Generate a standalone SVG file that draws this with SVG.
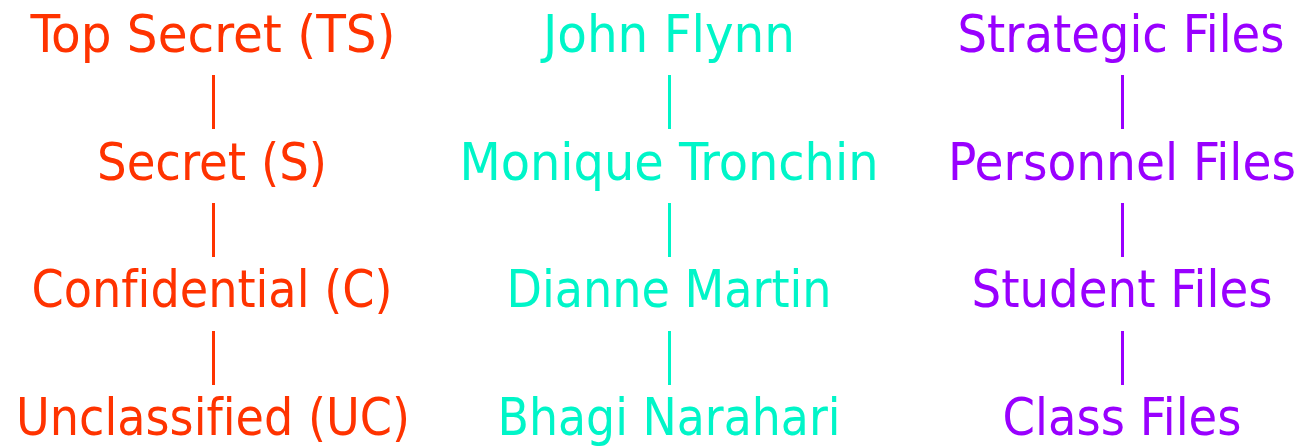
<svg xmlns="http://www.w3.org/2000/svg" width="1300" height="446" viewBox="0 0 1300 446">
  <style>
    .lbl { font-family: "DejaVu Sans Condensed", "DejaVu Sans", sans-serif; font-stretch: condensed; font-size: 52px; text-anchor: middle; font-variant-ligatures: none; font-feature-settings: "liga" 0; }
    .lvl { fill: #FF3300; }
    .who { fill: #00F5C8; }
    .obj { fill: #9900FF; }
    .bar { stroke-width: 3; fill: none; }
    .lvl-bar { stroke: #FF3300; }
    .who-bar { stroke: #00F5C8; }
    .obj-bar { stroke: #9900FF; }
  </style>
  <rect width="1300" height="446" fill="#FFFFFF"/>

  <!-- Classification levels -->
  <g id="level-ts"><text class="lbl lvl" x="213" y="52" textLength="365" lengthAdjust="spacingAndGlyphs">Top Secret (TS)</text></g>
  <g id="level-s"><text class="lbl lvl" x="212" y="180" textLength="230" lengthAdjust="spacingAndGlyphs">Secret (S)</text></g>
  <g id="level-c"><text class="lbl lvl" x="212" y="307" textLength="361" lengthAdjust="spacingAndGlyphs">Confidential (C)</text></g>
  <g id="level-uc"><text class="lbl lvl" x="213" y="435" textLength="394" lengthAdjust="spacingAndGlyphs">Unclassified (UC)</text></g>

  <!-- Subjects -->
  <g id="subject-flynn"><text class="lbl who" x="669" y="52" textLength="252" lengthAdjust="spacingAndGlyphs">John Flynn</text></g>
  <g id="subject-tronchin"><text class="lbl who" x="669" y="180" textLength="419" lengthAdjust="spacingAndGlyphs">Monique Tronchin</text></g>
  <g id="subject-martin"><text class="lbl who" x="669" y="307" textLength="325" lengthAdjust="spacingAndGlyphs">Dianne Martin</text></g>
  <g id="subject-narahari"><text class="lbl who" x="669" y="435" textLength="343" lengthAdjust="spacingAndGlyphs">Bhagi Narahari</text></g>

  <!-- Objects -->
  <g id="object-strategic"><text class="lbl obj" x="1121" y="52" textLength="327" lengthAdjust="spacingAndGlyphs">Strategic Files</text></g>
  <g id="object-personnel"><text class="lbl obj" x="1122" y="180" textLength="348" lengthAdjust="spacingAndGlyphs">Personnel Files</text></g>
  <g id="object-student"><text class="lbl obj" x="1122" y="307" textLength="301" lengthAdjust="spacingAndGlyphs">Student Files</text></g>
  <g id="object-class"><text class="lbl obj" x="1122" y="435" textLength="239" lengthAdjust="spacingAndGlyphs">Class Files</text></g>

  <!-- Ordering links between adjacent levels -->
  <g id="connectors">
    <line class="bar lvl-bar" x1="213.5" y1="75" x2="213.5" y2="129"/>
    <line class="bar lvl-bar" x1="213.5" y1="203" x2="213.5" y2="257"/>
    <line class="bar lvl-bar" x1="213.5" y1="331" x2="213.5" y2="385"/>
    <line class="bar who-bar" x1="669.5" y1="75" x2="669.5" y2="129"/>
    <line class="bar who-bar" x1="669.5" y1="203" x2="669.5" y2="257"/>
    <line class="bar who-bar" x1="669.5" y1="331" x2="669.5" y2="385"/>
    <line class="bar obj-bar" x1="1122.5" y1="75" x2="1122.5" y2="129"/>
    <line class="bar obj-bar" x1="1122.5" y1="203" x2="1122.5" y2="257"/>
    <line class="bar obj-bar" x1="1122.5" y1="331" x2="1122.5" y2="385"/>
  </g>
</svg>
